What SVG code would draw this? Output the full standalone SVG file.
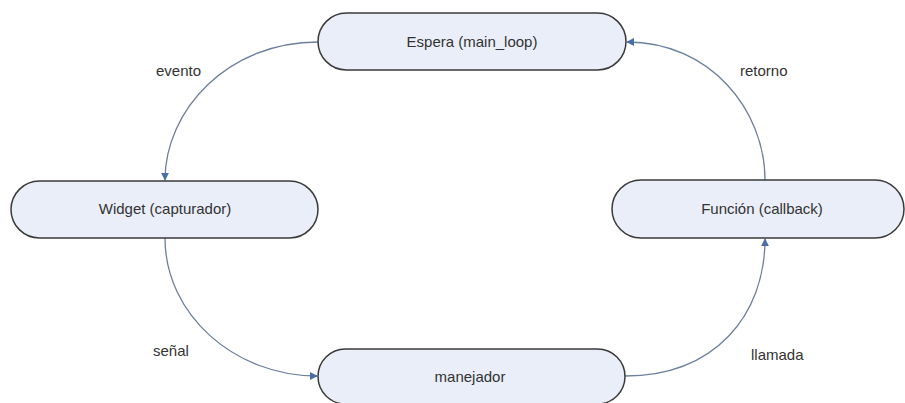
<svg xmlns="http://www.w3.org/2000/svg" width="905" height="403" viewBox="0 0 905 403">
<defs>
<style>
.node rect{fill:#e9eef8;stroke:#3a3a3a;stroke-width:1.5}
.node text,.lbl{font-family:"Liberation Sans",Arial,sans-serif;font-size:15px;fill:#333}
.node text{text-anchor:middle}
.conn path{fill:none;stroke:#6c7f9c;stroke-width:1.3;marker-end:url(#ah)}
</style>
<marker id="ah" viewBox="0 0 10 10" refX="9" refY="5" markerWidth="8" markerHeight="8" markerUnits="userSpaceOnUse" orient="auto">
<path d="M0,0 L10,5 L0,10 z" fill="#4a6fa5"/>
</marker>
</defs>
<rect width="905" height="403" fill="#ffffff"/>
<g class="conn">
<path d="M318,42 C228,42 165,110 165,180"/>
<path d="M765,180 C765,110 710,42 627,42"/>
<path d="M165,238 C165,315 235,376 317,376"/>
<path d="M625,376 C715,376 765,315 765,239"/>
</g>
<text class="lbl" x="156" y="76">evento</text>
<text class="lbl" x="740" y="76">retorno</text>
<text class="lbl" x="153" y="356">señal</text>
<text class="lbl" x="751" y="360">llamada</text>
<g id="espera" class="node">
<rect x="318" y="13" width="308" height="57" rx="28.5"/>
<text x="472" y="47">Espera (main_loop)</text>
</g>
<g id="widget" class="node">
<rect x="11" y="181" width="307" height="57" rx="28.5"/>
<text x="165" y="214">Widget (capturador)</text>
</g>
<g id="funcion" class="node">
<rect x="612" y="180" width="292" height="58" rx="29"/>
<text x="762" y="214">Función (callback)</text>
</g>
<g id="manejador" class="node">
<rect x="318" y="349" width="307" height="55" rx="27.5"/>
<text x="470" y="382">manejador</text>
</g>
</svg>
